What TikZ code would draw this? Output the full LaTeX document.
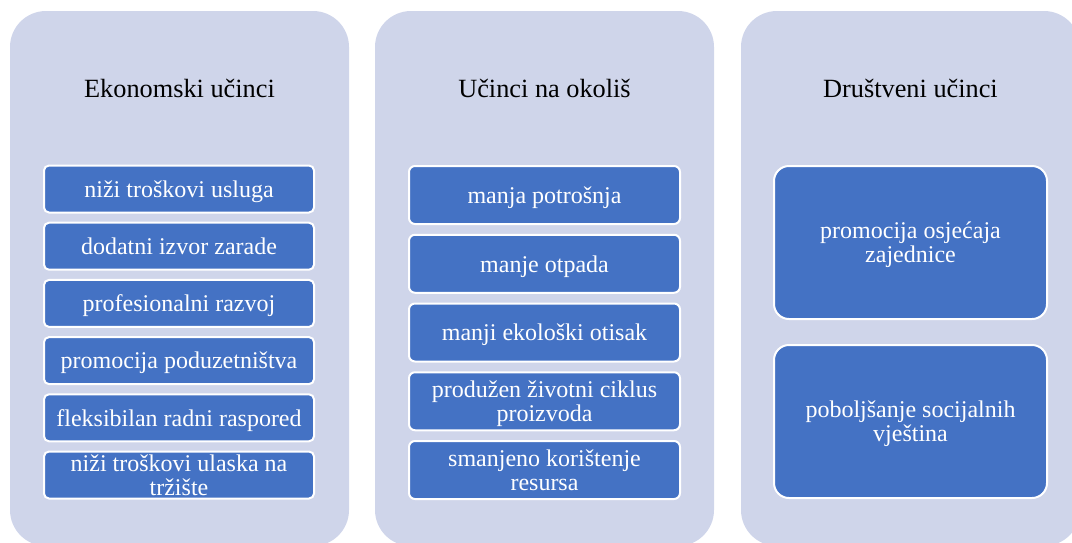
\documentclass[tikz,border=0pt]{standalone}
\usepackage{fontspec}
\setmainfont{Liberation Serif}
\definecolor{panelfill}{HTML}{CFD5EA}
\definecolor{itemblue}{HTML}{4472C4}
\tikzset{
panel/.style={fill=panelfill,rounded corners=36pt},
heading/.style={anchor=base,font=\fontsize{26.3}{30}\selectfont},
item/.style={fill=itemblue,draw=white,line width=2pt,text=white,align=center,inner sep=0pt,text depth=0pt,font=\fontsize{24}{24}\selectfont},
itemA/.style={item,minimum width=270pt,minimum height=47pt,rounded corners=5pt},
itemB/.style={item,minimum width=271pt,minimum height=58pt,rounded corners=6pt},
itemC/.style={item,minimum width=273pt,minimum height=153pt,rounded corners=15pt}
}
\begin{document}
\begin{tikzpicture}[x=1pt,y=-1pt]
\pgfmathsetmacro{\pa}{57.2}
\pgfmathsetmacro{\pb}{68.75}
\useasboundingbox(0,0)rectangle(1072,542);
\clip(0,0)rectangle(1072,542);
\fill[panel](10,11)rectangle(349,546);
\fill[panel](375,11)rectangle(714,546);
\fill[panel](741,11)rectangle(1080,546);
%
\node[heading](t1)at(179.5,97){Ekonomski učinci};
\node[heading](t2)at(544.5,97){Učinci na okoliš};
\node[heading](t3)at(910.5,97){Društveni učinci};
%
\node[itemA](a1)at(179,189){niži troškovi usluga};
\node[itemA](a2)at(179,189+\pa){dodatni izvor zarade};
\node[itemA](a3)at(179,189+2*\pa){profesionalni razvoj};
\node[itemA](a4)at(179,189+3*\pa){promocija poduzetništva};
\node[itemA](a5)at(179,189+4*\pa){fleksibilan radni raspored};
\node[itemA](a6)at(179,189+5*\pa){niži troškovi ulaska na\\tržište};
%
\node[itemB](b1)at(544.5,195){manja potrošnja};
\node[itemB](b2)at(544.5,195+\pb){manje otpada};
\node[itemB](b3)at(544.5,195+2*\pb){manji ekološki otisak};
\node[itemB](b4)at(544.5,195+3*\pb){produžen životni ciklus\\proizvoda};
\node[itemB](b5)at(544.5,195+4*\pb){smanjeno korištenje\\resursa};
%
\node[itemC](c1)at(910.5,242.5){promocija osjećaja\\zajednice};
\node[itemC](c2)at(910.5,421.5){poboljšanje socijalnih\\vještina};
\end{tikzpicture}
\end{document}
